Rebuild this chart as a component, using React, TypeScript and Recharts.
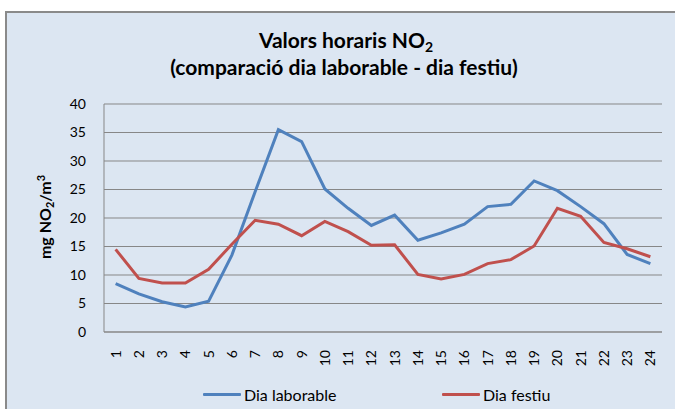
import React from 'react';
import { LineChart, Line, XAxis, YAxis, CartesianGrid, Legend } from 'recharts';

const hours = ['1','2','3','4','5','6','7','8','9','10','11','12','13','14','15','16','17','18','19','20','21','22','23','24'];
const laborable = [8.5,6.7,5.3,4.4,5.4,13.5,24.6,35.5,33.4,25.1,21.7,18.7,20.5,16.1,17.4,18.9,22.0,22.4,26.5,24.8,22.0,19.0,13.6,12.0];
const festiu = [14.5,9.4,8.6,8.6,11.0,15.4,19.6,18.9,16.9,19.4,17.6,15.2,15.3,10.1,9.3,10.1,12.0,12.7,15.1,21.7,20.3,15.7,14.6,13.2];
const yTicks = [0,5,10,15,20,25,30,35,40];

const data = hours.map((h, i) => ({ hour: h, laborable: laborable[i], festiu: festiu[i] }));

const FONT = 'Lato, "Open Sans", sans-serif';
const BLUE = '#4F81BD';
const RED = '#C0504D';

const XTick = (props: any) => {
  const { x, y, payload } = props;
  const ty = y + 10;
  return (
    <text x={x} y={ty} dy="0.35em" transform={`rotate(-90, ${x}, ${ty})`} textAnchor="end"
      fontFamily={FONT} fontSize={14} fill="#000">
      {payload.value}
    </text>
  );
};

const LegendContent = () => {
  const items = [
    { label: 'Dia laborable', color: BLUE, left: 203 },
    { label: 'Dia festiu', color: RED, left: 442 },
  ];
  return (
    <div style={{ position: 'relative', width: 675, height: 20 }}>
      {items.map((it) => (
        <div key={it.label} style={{ position: 'absolute', left: it.left, top: 0, height: 20, display: 'flex', alignItems: 'center' }}>
          <div style={{ width: 38, height: 3, background: it.color, borderRadius: 1 }} />
          <span style={{ marginLeft: 3, fontFamily: FONT, fontSize: 16, color: '#000', whiteSpace: 'nowrap' }}>{it.label}</span>
        </div>
      ))}
    </div>
  );
};

export default function App() {
  return (
    <div style={{ position: 'absolute', left: 0, top: 0, width: 675, height: 409, overflow: 'hidden', background: '#fff' }}>
      <div style={{ position: 'absolute', left: 5, top: 11, width: 720, height: 440, border: '2px solid #8a8a8a', background: '#DCE6F2' }} />
      <div style={{ position: 'absolute', left: 0, top: 0 }}>
        <LineChart width={675} height={409} data={data} margin={{ top: 104, right: 13, bottom: 5, left: 44 }}>
          <CartesianGrid vertical={false} stroke="#878787" strokeWidth={1} />
          <XAxis dataKey="hour" scale="band" interval={0} tickLine={false} axisLine={{ stroke: '#878787' }} height={52} tick={<XTick />} />
          <YAxis domain={[0, 40]} ticks={yTicks} width={60} tickLine={false} axisLine={{ stroke: '#878787' }}
            tick={{ fontFamily: FONT, fontSize: 14, fill: '#000' }} tickMargin={12} />
          <Legend verticalAlign="bottom" height={20} wrapperStyle={{ left: 0, width: 675 }} content={<LegendContent />} />
          <Line dataKey="laborable" name="Dia laborable" stroke={BLUE} strokeWidth={3} dot={false} isAnimationActive={false} />
          <Line dataKey="festiu" name="Dia festiu" stroke={RED} strokeWidth={3} dot={false} isAnimationActive={false} />
        </LineChart>
      </div>
      <div style={{ position: 'absolute', left: 0, top: 27, width: 692, textAlign: 'center', fontFamily: FONT, fontWeight: 'bold', fontSize: 21, lineHeight: 'normal', color: '#000', whiteSpace: 'nowrap' }}>
        Valors horaris NO<sub style={{ fontSize: 14, verticalAlign: '-4px', lineHeight: 0 }}>2</sub>
      </div>
      <div style={{ position: 'absolute', left: 0, top: 54, width: 688, textAlign: 'center', fontFamily: FONT, fontWeight: 'bold', fontSize: 21, lineHeight: 'normal', color: '#000', whiteSpace: 'nowrap' }}>
        (comparació dia laborable - dia festiu)
      </div>
      <div style={{ position: 'absolute', left: 45, top: 217, width: 0, height: 0 }}>
        <div style={{ position: 'absolute', left: -70, top: -11, width: 140, height: 22, lineHeight: '22px', textAlign: 'center', transform: 'rotate(-90deg)', fontFamily: FONT, fontWeight: 'bold', fontSize: 16, color: '#000', whiteSpace: 'nowrap' }}>
          mg NO<sub style={{ fontSize: 11, verticalAlign: '-3px', lineHeight: 0 }}>2</sub>/m<sup style={{ fontSize: 11, verticalAlign: '6px', lineHeight: 0 }}>3</sup>
        </div>
      </div>
    </div>
  );
}
